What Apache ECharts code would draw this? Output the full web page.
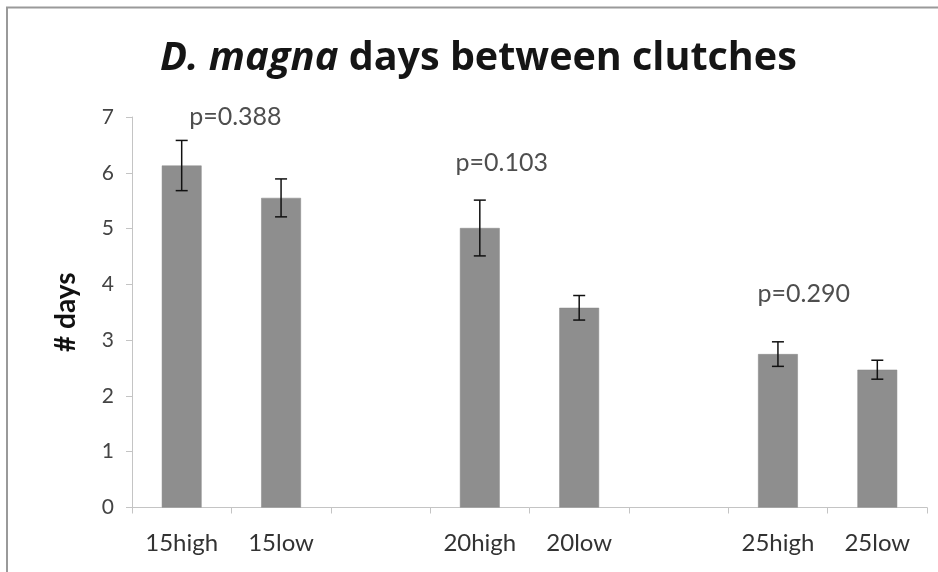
<!DOCTYPE html>
<html><head><meta charset="utf-8">
<script src="https://cdn.jsdelivr.net/npm/echarts@6/dist/echarts.min.js"></script>
<style>html,body{margin:0;padding:0;background:#fff}#c{width:938px;height:572px}</style>
</head><body><div id="c"></div>
<script>
const categories = ['15high', '15low', '', '20high', '20low', '', '25high', '25low'];
const means = [6.13, 5.55, null, 5.01, 3.58, null, 2.75, 2.47];
const errors = [0.45, 0.34, null, 0.50, 0.22, null, 0.22, 0.17];
const pTexts = ['p=0.388', 'p=0.103', 'p=0.290'];
const pX = [1.04, 3.72, 6.76];
const pY = [7.0, 6.18, 3.82];
const yMin = 0, yMax = 7, yStep = 1;

const FONT = 'Lato';
const TFONT = 'Open Sans';
const chart = echarts.init(document.getElementById('c'), null, {renderer: 'canvas'});

const errData = means.map((m, i) => m == null ? null : [i, m - errors[i], m + errors[i]]).filter(d => d);
const pData = pTexts.map((t, i) => [pX[i], pY[i], t]);

chart.setOption({
  backgroundColor: '#ffffff',
  animation: false,
  title: {
    text: '{i|D. magna}{b| days between clutches}',
    left: 155, top: 34,
    textStyle: {
      rich: {
        i: {fontFamily: TFONT, fontSize: 40, fontWeight: 'bold', fontStyle: 'italic', color: '#151515'},
        b: {fontFamily: TFONT, fontSize: 39.5, fontWeight: 'bold', color: '#151515'}
      }
    }
  },
  graphic: [{
    type: 'polyline', shape: {points: [[7, 572], [7, 7.5], [938, 7.5]]},
    style: {fill: 'none', stroke: '#9a9a9a', lineWidth: 2}, silent: true, z: -1
  }],
  grid: {left: 132, right: 11, top: 117, bottom: 64.5, containLabel: false},
  xAxis: [{
    type: 'category', data: categories, boundaryGap: true,
    axisLine: {lineStyle: {color: '#c4c4c4', width: 1}},
    axisTick: {show: true, interval: 0, length: 6, lineStyle: {color: '#c4c4c4'}},
    axisLabel: {interval: 0, margin: 24, fontFamily: FONT, fontSize: 24, color: '#333'},
    splitLine: {show: false}
  }, {
    type: 'value', min: 0, max: categories.length, show: false
  }],
  yAxis: {
    type: 'value', min: yMin, max: yMax, interval: yStep,
    name: '# days', nameLocation: 'middle', nameGap: 52, nameRotate: 90,
    nameTextStyle: {fontFamily: FONT, fontSize: 28, fontWeight: 'bold', color: '#111'},
    axisLine: {show: true, lineStyle: {color: '#c4c4c4', width: 1}},
    axisTick: {show: true, length: 6, lineStyle: {color: '#c4c4c4'}},
    axisLabel: {margin: 18, fontFamily: FONT, fontSize: 21, color: '#444'},
    splitLine: {show: false}
  },
  series: [{
    type: 'bar', data: means, barWidth: '40%', xAxisIndex: 0,
    itemStyle: {color: '#8e8e8e', borderColor: '#878787', borderWidth: 0.5}
  }, {
    type: 'custom', xAxisIndex: 0, data: errData, z: 5,
    renderItem: function (params, api) {
      const x = api.value(0);
      const lo = api.coord([x, api.value(1)]);
      const hi = api.coord([x, api.value(2)]);
      const hw = 6;
      const st = {stroke: '#111', lineWidth: 1.5};
      return {type: 'group', children: [
        {type: 'line', shape: {x1: lo[0], y1: lo[1], x2: hi[0], y2: hi[1]}, style: st},
        {type: 'line', shape: {x1: lo[0] - hw, y1: lo[1], x2: lo[0] + hw, y2: lo[1]}, style: st},
        {type: 'line', shape: {x1: hi[0] - hw, y1: hi[1], x2: hi[0] + hw, y2: hi[1]}, style: st}
      ]};
    }
  }, {
    type: 'scatter', xAxisIndex: 1, data: pData, symbolSize: 0,
    label: {show: true, position: 'inside', formatter: p => p.data[2],
      fontFamily: FONT, fontSize: 25, color: '#222'}
  }]
});
</script></body></html>
